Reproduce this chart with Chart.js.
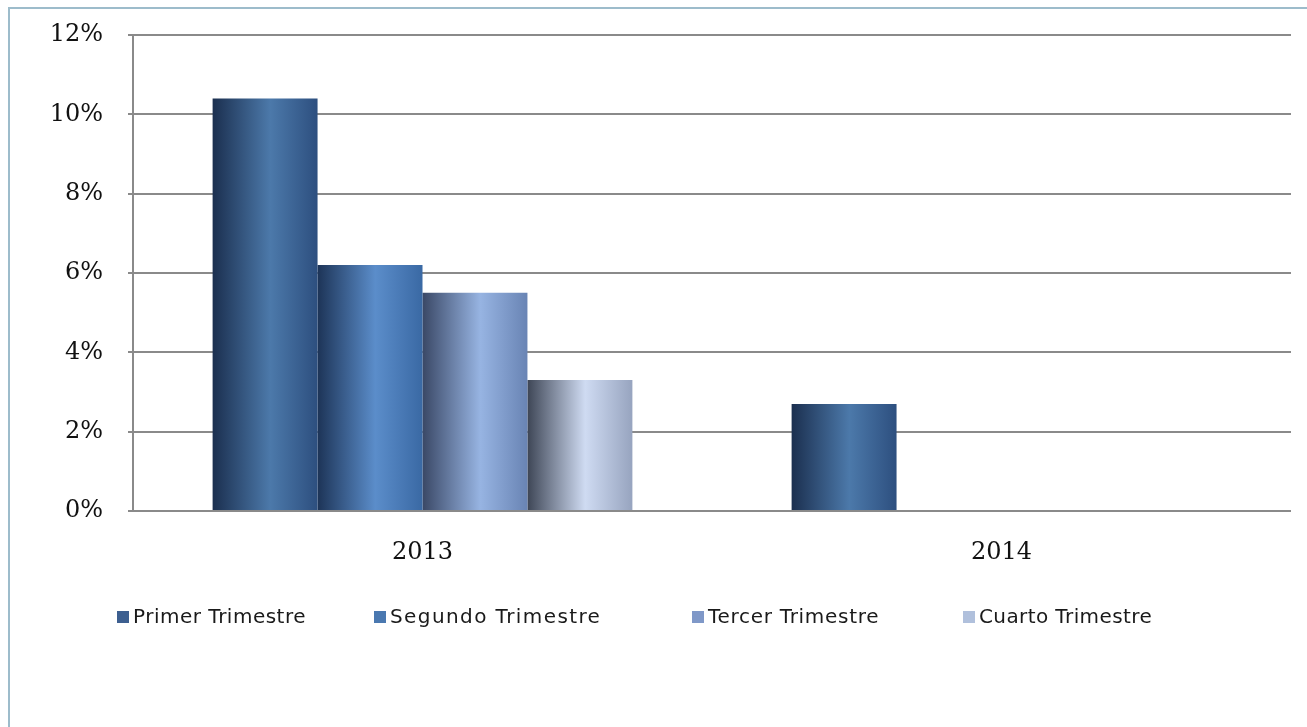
<!DOCTYPE html>
<html>
<head>
<meta charset="utf-8">
<script src="https://cdn.jsdelivr.net/npm/chart.js@4/dist/chart.umd.min.js"></script>
<style>
  html, body { margin: 0; padding: 0; background: #fff; overflow: hidden; }
  #frame {
    position: absolute; left: 8px; top: 7px;
    width: 1320px; height: 740px;
    border: 2px solid #9dbccb;
  }
  #wrap { position: absolute; left: 0; top: 0; width: 1307px; height: 727px; }
</style>
</head>
<body>
<div id="frame"></div>
<div id="wrap"><canvas id="chart"></canvas></div>
<script>
const years = ["2013", "2014"];
const seriesNames = ["Primer Trimestre", "Segundo Trimestre", "Tercer Trimestre", "Cuarto Trimestre"];
const primer = [10.4, 2.7];
const segundo = [6.2, null];
const tercer = [5.5, null];
const cuarto = [3.3, null];
const yTicks = [0, 2, 4, 6, 8, 10, 12];

// left edge, highlight, right edge of each bar's shading
const shades = [
  ["#1b2f4f", "#4c79aa", "#2d4f7f"],
  ["#1d3457", "#5b8dca", "#3a69a4"],
  ["#3a4866", "#97b4e2", "#6984b4"],
  ["#3e4656", "#cfdbf2", "#97a4bf"]
];
const legendColors = ["#3d5f90", "#4a78b0", "#7f98c8", "#b0c0dc"];

const CAT_PCT = 0.725;

function barFill(ctx) {
  const chart = ctx.chart;
  const stops = shades[ctx.datasetIndex];
  const x = chart.scales.x;
  if (!chart.chartArea || !x) return stops[1];
  const catW = x.width / years.length;
  const groupW = catW * CAT_PCT;
  const barW = groupW / seriesNames.length;
  const left = x.getPixelForValue(ctx.dataIndex) - groupW / 2 + ctx.datasetIndex * barW;
  const g = chart.ctx.createLinearGradient(left, 0, left + barW, 0);
  g.addColorStop(0, stops[0]);
  g.addColorStop(0.55, stops[1]);
  g.addColorStop(1, stops[2]);
  return g;
}

// legend laid out in fixed slots under the axis, like the spreadsheet one
const slotLegend = {
  id: "slotLegend",
  afterDraw(chart) {
    const ctx = chart.ctx;
    const slots = [117, 374, 692, 963];
    const spacing = ["0.5px", "1.4px", "0.7px", "0.4px"];
    const y = chart.chartArea.bottom + 106;
    ctx.save();
    ctx.font = "20px 'DejaVu Sans'";
    ctx.textBaseline = "middle";
    seriesNames.forEach((name, i) => {
      ctx.fillStyle = legendColors[i];
      ctx.fillRect(slots[i], y - 6, 12, 12);
      ctx.fillStyle = "#1a1a1a";
      ctx.letterSpacing = spacing[i];
      ctx.fillText(name, slots[i] + 16, y + 1);
    });
    ctx.restore();
  }
};

const values = [primer, segundo, tercer, cuarto];

new Chart(document.getElementById("chart"), {
  type: "bar",
  data: {
    labels: years,
    datasets: seriesNames.map((name, i) => ({
      label: name,
      data: values[i],
      backgroundColor: barFill,
      borderWidth: 0,
      categoryPercentage: CAT_PCT,
      barPercentage: 1
    }))
  },
  options: {
    responsive: true,
    maintainAspectRatio: false,
    animation: false,
    layout: { padding: { top: 35, right: 16, bottom: 156, left: 0 } },
    plugins: {
      tooltip: { enabled: false },
      legend: { display: false }
    },
    scales: {
      x: {
        grid: { display: false },
        border: { display: false },
        ticks: {
          color: "#111",
          padding: 19,
          font: { family: "DejaVu Serif", size: 24 }
        },
        afterFit: s => { s.height = 60; }
      },
      y: {
        min: 0,
        max: 12,
        afterBuildTicks: s => { s.ticks = yTicks.map(v => ({ value: v })); },
        grid: { color: "#8a8a8a", lineWidth: 2, tickLength: 5 },
        border: { color: "#8a8a8a", width: 2 },
        ticks: {
          color: "#111",
          padding: 25,
          font: { family: "DejaVu Serif", size: 24 },
          callback: v => v + "%"
        },
        afterFit: s => {
          s.width = 133;
          s.paddingTop = 0;
          s.paddingBottom = 0;
        }
      }
    }
  },
  plugins: [slotLegend]
});
</script>
</body>
</html>
